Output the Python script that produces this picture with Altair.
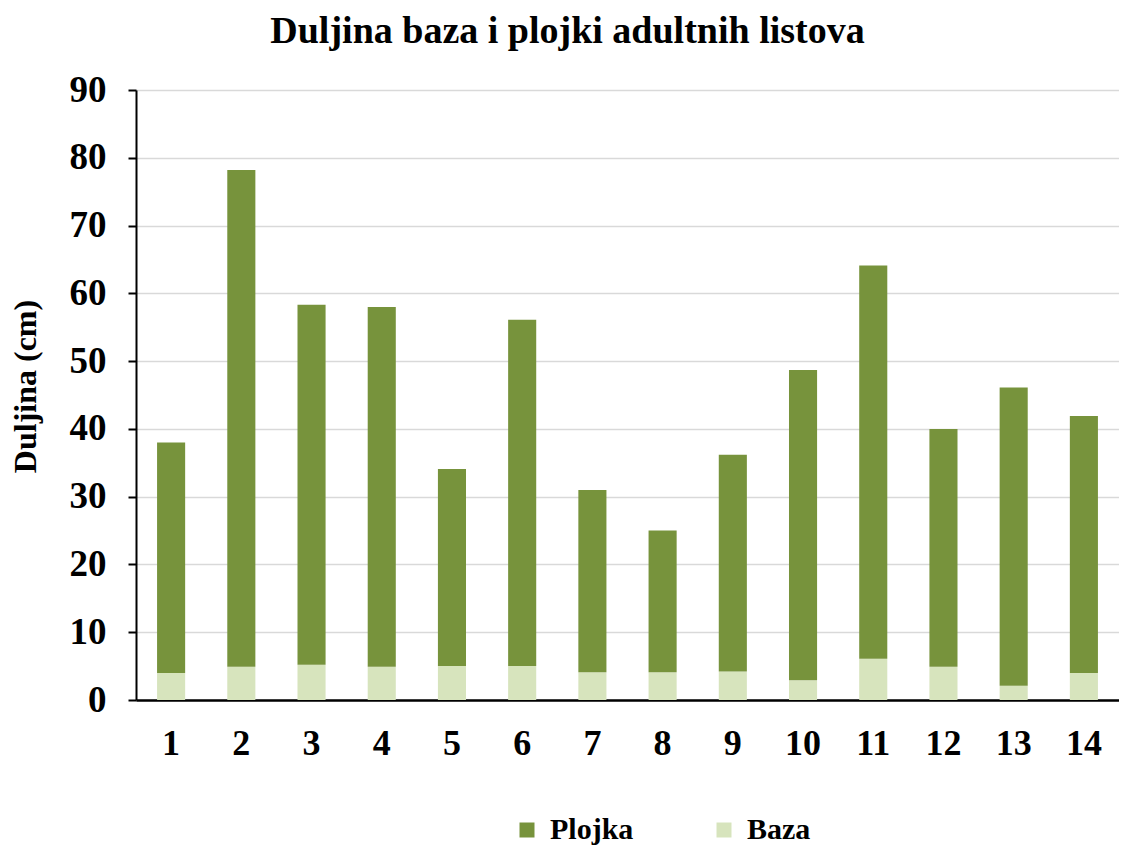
import altair as alt
import pandas as pd

categories = [str(i) for i in range(1, 15)]
baza = [4.0, 4.9, 5.2, 4.9, 5.0, 5.0, 4.1, 4.1, 4.2, 2.9, 6.1, 4.9, 2.1, 4.0]
plojka = [34.0, 73.3, 53.1, 53.1, 29.1, 51.1, 26.9, 20.9, 32.0, 45.8, 58.0, 35.1, 44.0, 37.9]
series = ["Plojka", "Baza"]
colors = ["#77933C", "#D7E4BD"]

rows = []
for c, b, p in zip(categories, baza, plojka):
    rows.append({"list": c, "dio": "Baza", "duljina": b, "ord": 0})
    rows.append({"list": c, "dio": "Plojka", "duljina": p, "ord": 1})
df = pd.DataFrame(rows)

FONT = "Liberation Serif"

chart = alt.Chart(df).mark_bar().encode(
    x=alt.X("list:N", sort=categories, title=None,
            scale=alt.Scale(paddingInner=0.6, paddingOuter=0.3),
            axis=alt.Axis(labelAngle=0, labelFont=FONT, labelFontSize=36, labelFontWeight="bold",
                          labelColor="black", labelPadding=26, ticks=False,
                          domainColor="black", domainWidth=2.5, grid=False)),
    y=alt.Y("duljina:Q", stack="zero", title="Duljina (cm)",
            scale=alt.Scale(domain=[0, 90], nice=False),
            axis=alt.Axis(values=list(range(0, 91, 10)), labelFont=FONT, labelFontSize=37,
                          labelFontWeight="bold", labelColor="black", labelPadding=22,
                          tickColor="black", tickWidth=2, tickSize=8,
                          domainColor="black", domainWidth=2,
                          gridColor="#d9d9d9", gridWidth=1.5,
                          titleFont=FONT, titleFontSize=32, titleFontWeight="bold", titleColor="black",
                          titleAngle=-90, titleX=-111, titleY=296, titleBaseline="middle",
                          titleAlign="center")),
    color=alt.Color("dio:N", scale=alt.Scale(domain=series, range=colors),
                    legend=alt.Legend(title=None, orient="none", legendX=376, legendY=725,
                                      direction="horizontal", columns=2, columnPadding=75,
                                      symbolType="square", symbolSize=225, symbolStrokeWidth=0,
                                      symbolOpacity=1, labelFont=FONT, labelFontSize=30,
                                      labelFontWeight="bold", labelColor="black", labelOffset=8,
                                      padding=0)),
    order=alt.Order("ord:Q", sort="ascending"),
).properties(
    width=983,
    height=610,
    title=alt.TitleParams("Duljina baza i plojki adultnih listova", font=FONT, fontSize=38,
                          fontWeight="bold", color="black", anchor="middle", dx=-60, offset=20),
    autosize=alt.AutoSizeParams(type="none"),
    padding={"left": 128, "top": 82, "right": 0, "bottom": 146},
).configure_view(stroke=None).configure(background="white")

chart.save("out.html", embed_options={"renderer": "svg", "actions": False})
